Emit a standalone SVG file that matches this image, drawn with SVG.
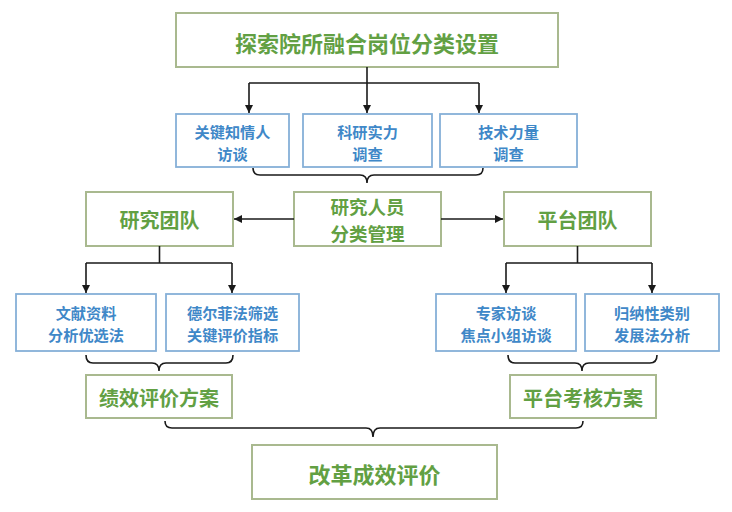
<svg xmlns="http://www.w3.org/2000/svg" width="732" height="512" viewBox="0 0 732 512">
<style>
  .g rect{fill:#fff;stroke:#a9b98f;stroke-width:2}
  .b rect{fill:#fff;stroke:#86b0d8;stroke-width:1.8}
  text{font-family:"Noto Sans CJK SC","Noto Sans",sans-serif;font-weight:bold;text-anchor:middle;dominant-baseline:central}
  .g text{fill:#62a043}
  .b text{fill:#3f88c8;font-size:15.2px}
  .ln{fill:none;stroke:#1a1a1a;stroke-width:1.6}
</style>
<defs>
  <marker id="ah" viewBox="0 0 10 10" refX="10" refY="5" markerWidth="8" markerHeight="8" markerUnits="userSpaceOnUse" orient="auto">
    <path d="M0,0 L10,5 L0,10 z" fill="#1a1a1a"/>
  </marker>
</defs>
<rect width="732" height="512" fill="#fff"/>

<g id="n-top" class="g"><rect x="176" y="13" width="382" height="54"/><text x="367" y="42" font-size="22">探索院所融合岗位分类设置</text></g>

<g id="n-k1" class="b"><rect x="176" y="114" width="113" height="53"/><text x="232.5" y="130.5">关键知情人</text><text x="232.5" y="152.5">访谈</text></g>
<g id="n-k2" class="b"><rect x="303" y="114" width="129" height="53"/><text x="367.5" y="130.5">科研实力</text><text x="367.5" y="152.5">调查</text></g>
<g id="n-k3" class="b"><rect x="440" y="114" width="137" height="53"/><text x="508.5" y="130.5">技术力量</text><text x="508.5" y="152.5">调查</text></g>

<g id="n-mid" class="g"><rect x="294" y="192" width="147" height="54"/><text x="367.5" y="206" font-size="18.5">研究人员</text><text x="367.5" y="233" font-size="18.5">分类管理</text></g>
<g id="n-rt" class="g"><rect x="86" y="192" width="147" height="54"/><text x="159.5" y="219" font-size="20">研究团队</text></g>
<g id="n-pt" class="g"><rect x="504" y="192" width="147" height="54"/><text x="577.5" y="219" font-size="20">平台团队</text></g>

<g id="n-l1" class="b"><rect x="16" y="294" width="140" height="57"/><text x="86" y="312">文献资料</text><text x="86" y="334">分析优选法</text></g>
<g id="n-l2" class="b"><rect x="166" y="294" width="133" height="57"/><text x="232.5" y="312">德尔菲法筛选</text><text x="232.5" y="334">关键评价指标</text></g>
<g id="n-r1" class="b"><rect x="436" y="294" width="140" height="57"/><text x="506" y="312">专家访谈</text><text x="506" y="334">焦点小组访谈</text></g>
<g id="n-r2" class="b"><rect x="585" y="294" width="134" height="57"/><text x="652" y="312">归纳性类别</text><text x="652" y="334">发展法分析</text></g>

<g id="n-jx" class="g"><rect x="86" y="375" width="146" height="43"/><text x="159" y="397" font-size="20">绩效评价方案</text></g>
<g id="n-kh" class="g"><rect x="510" y="375" width="146" height="43"/><text x="583" y="397" font-size="20">平台考核方案</text></g>

<g id="n-end" class="g"><rect x="252" y="445" width="245" height="54"/><text x="374.5" y="473" font-size="22">改革成效评价</text></g>

<g id="connectors">
  <path class="ln" d="M367,67 V113" marker-end="url(#ah)"/>
  <path class="ln" d="M249,83 H479"/>
  <path class="ln" d="M249,83 V113" marker-end="url(#ah)"/>
  <path class="ln" d="M479,83 V113" marker-end="url(#ah)"/>
  <path class="ln" d="M253,168 Q253,175 260,175 H360 Q367,175 367,183 Q367,175 374,175 H476 Q483,175 483,168"/>
  <path class="ln" d="M294,219 H234" marker-end="url(#ah)"/>
  <path class="ln" d="M441,219 H503" marker-end="url(#ah)"/>
  <path class="ln" d="M159.5,246 V263 M86,263 H232"/>
  <path class="ln" d="M86,263 V293" marker-end="url(#ah)"/>
  <path class="ln" d="M232,263 V293" marker-end="url(#ah)"/>
  <path class="ln" d="M577.5,246 V263 M506,263 H652"/>
  <path class="ln" d="M506,263 V293" marker-end="url(#ah)"/>
  <path class="ln" d="M652,263 V293" marker-end="url(#ah)"/>
  <path class="ln" d="M86,355 Q86,363 93,363 H152 Q159,363 159,371 Q159,363 166,363 H226 Q233,363 233,355"/>
  <path class="ln" d="M508,355 Q508,363 515,363 H575 Q582,363 582,371 Q582,363 589,363 H650 Q657,363 657,355"/>
  <path class="ln" d="M165,421 Q165,428 172,428 H366 Q373,428 373,437 Q373,428 380,428 H576 Q583,428 583,421"/>
</g>
</svg>
